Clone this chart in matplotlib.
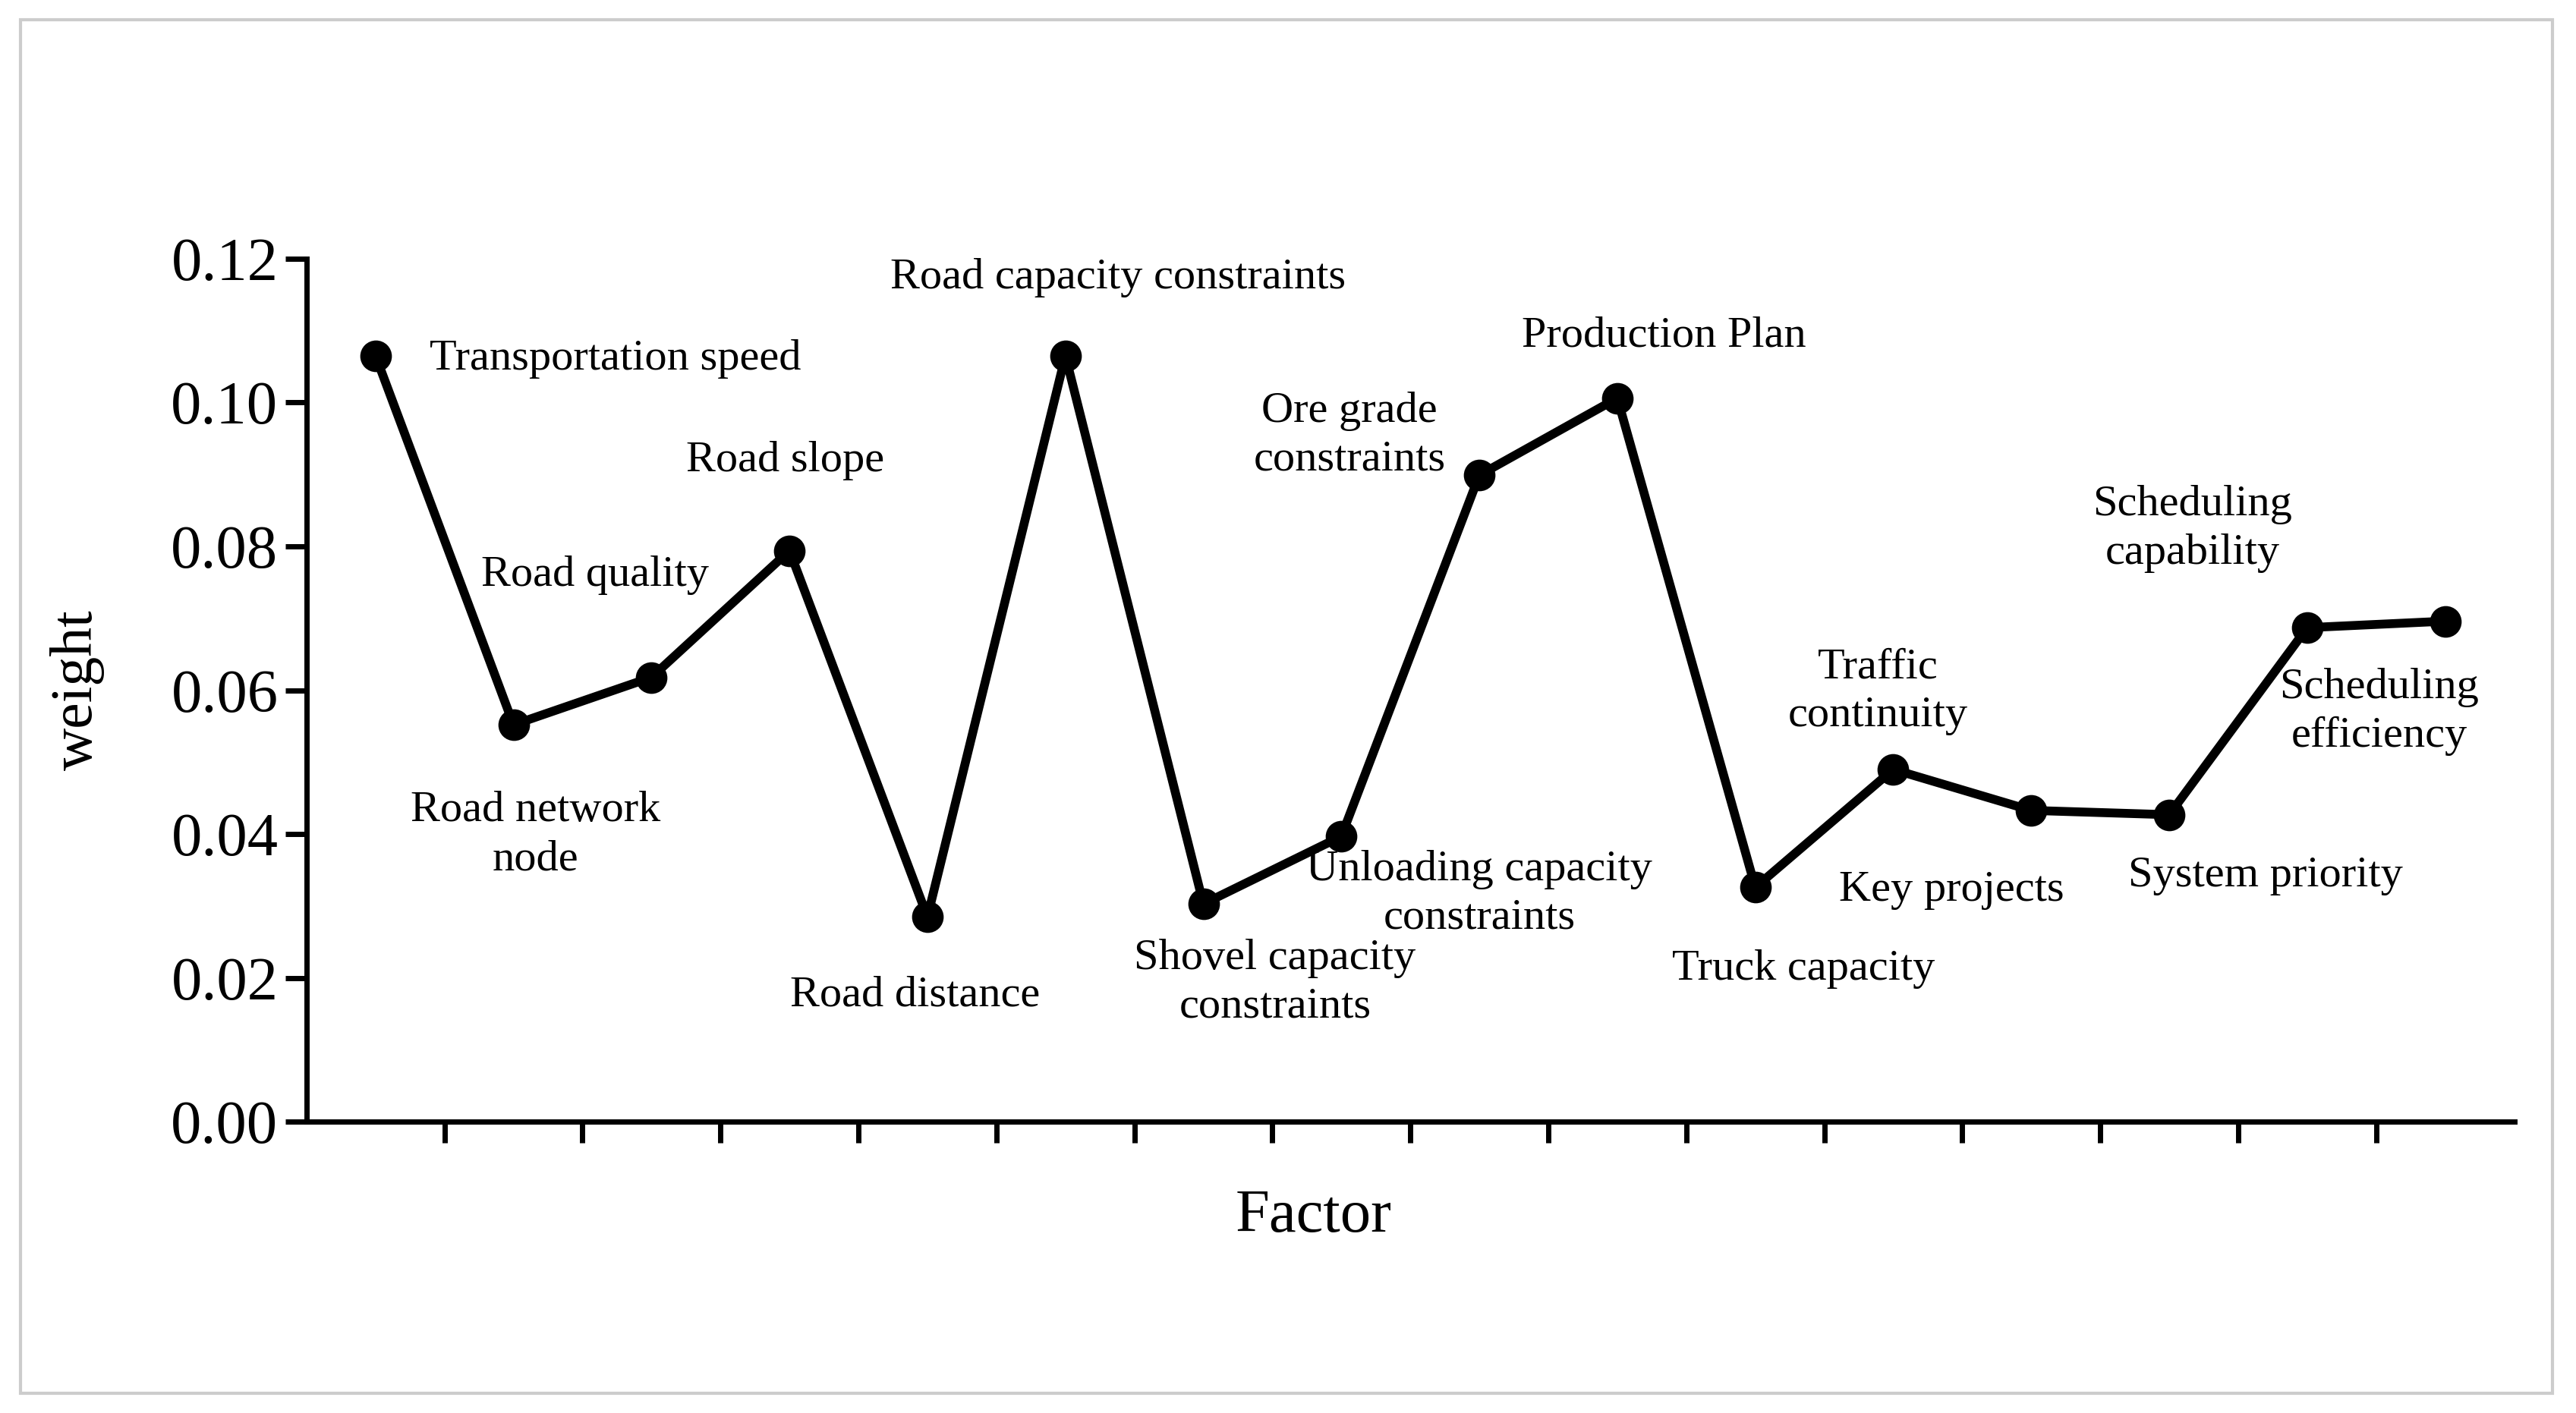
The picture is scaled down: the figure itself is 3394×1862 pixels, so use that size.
import matplotlib
matplotlib.use("Agg")
import matplotlib.pyplot as plt
from matplotlib.patches import Rectangle

factors = list(range(1, 17))
weights = [0.1065, 0.0552, 0.0618, 0.0794, 0.0285, 0.1065, 0.0303, 0.0397,
           0.0899, 0.1006, 0.0326, 0.0490, 0.0433, 0.0427, 0.0687, 0.0696]
labels = ["Transportation speed", "Road quality", "Road network\nnode", "Road slope",
          "Road distance", "Road capacity constraints", "Shovel capacity\nconstraints",
          "Unloading capacity\nconstraints", "Ore grade\nconstraints", "Production Plan",
          "Truck capacity", "Traffic\ncontinuity", "Key projects", "System priority",
          "Scheduling\ncapability", "Scheduling\nefficiency"]
label_x = [2.74, 2.59, 2.16, 3.97, 4.91, 6.38, 7.52, 9.00, 8.06, 10.34, 11.35, 11.89,
           12.42, 14.70, 14.17, 15.52]
label_y = [0.1061, 0.0760, 0.0399, 0.0919, 0.0176, 0.1173, 0.0194, 0.0317, 0.0954,
           0.1093, 0.0212, 0.0598, 0.0322, 0.0342, 0.0824, 0.0570]
yticks = [0.00, 0.02, 0.04, 0.06, 0.08, 0.10, 0.12]

plt.rcParams['font.family'] = ['Liberation Serif', 'DejaVu Serif']
fig = plt.figure(figsize=(16.97, 9.31), dpi=200)
fig.patches.append(Rectangle((0.008, 0.014), 0.983, 0.972, transform=fig.transFigure,
                             fill=False, edgecolor='#cccccc', linewidth=1.5))
ax = fig.add_axes([0.119, 0.206, 0.857, 0.611])
ax.plot(factors, weights, color='black', linewidth=4.2, marker='o', markersize=14)
for t, x, y in zip(labels, label_x, label_y):
    ax.text(x, y, t, ha='center', va='center', fontsize=21, linespacing=1.3)
ax.set_xlim(0.5, 16.5)
ax.set_ylim(0, 0.12)
ax.set_yticks(yticks)
ax.set_yticklabels([f"{v:.2f}" for v in yticks], fontsize=29)
ax.set_xticks([i + 0.5 for i in range(1, 16)])
ax.set_xticklabels([])
ax.tick_params(axis='both', direction='out', length=10, width=2.5)
for s in ['top', 'right']:
    ax.spines[s].set_visible(False)
for s in ['left', 'bottom']:
    ax.spines[s].set_linewidth(2.5)
fig.text(0.510, 0.139, "Factor", fontsize=29, ha='center', va='center')
fig.text(0.030, 0.512, "weight", fontsize=28, ha='center', va='center', rotation=90)
fig.savefig("out.png", dpi=200)
